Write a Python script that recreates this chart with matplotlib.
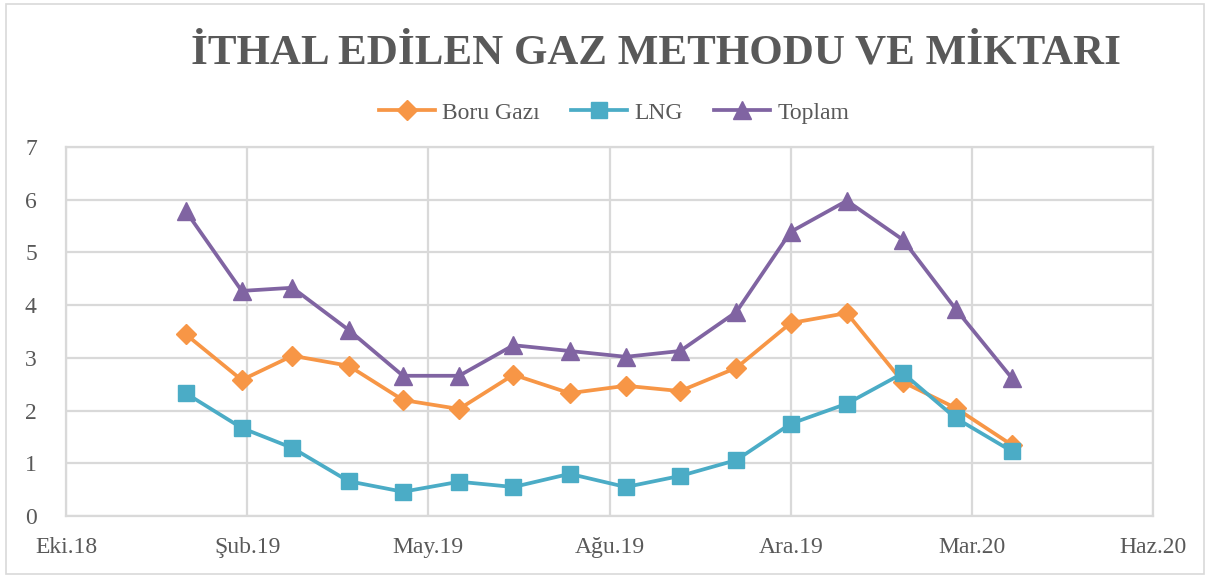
import matplotlib
matplotlib.use("Agg")
import matplotlib.pyplot as plt
import matplotlib.dates as mdates
from matplotlib.patches import Rectangle
import datetime as dt

months = [dt.date(2019, m, 1) for m in range(1, 13)] + [dt.date(2020, m, 1) for m in range(1, 5)]
boru = [3.45, 2.58, 3.04, 2.85, 2.20, 2.03, 2.68, 2.33, 2.47, 2.37, 2.81, 3.66, 3.85, 2.54, 2.05, 1.35]
lng = [2.33, 1.67, 1.29, 0.66, 0.46, 0.65, 0.55, 0.80, 0.55, 0.76, 1.06, 1.75, 2.13, 2.71, 1.86, 1.23]
toplam = [5.79, 4.27, 4.33, 3.53, 2.66, 2.66, 3.24, 3.13, 3.02, 3.13, 3.87, 5.39, 5.98, 5.24, 3.93, 2.62]
x_start = dt.date(2018, 10, 27)
tick_labels = ["Eki.18", "Şub.19", "May.19", "Ağu.19", "Ara.19", "Mar.20", "Haz.20"]
title = "İTHAL EDİLEN GAZ METHODU VE MİKTARI"

fig = plt.figure(figsize=(12.08, 5.78), dpi=100)
ax = fig.add_axes([66/1208, 1-516/578, (1153-66)/1208, (516-147)/578])

series = [
    ("Boru Gazı", boru, "#F79646", "D", 10.5),
    ("LNG", lng, "#4BACC6", "s", 12),
    ("Toplam", toplam, "#8064A2", "^", 13),
]
for name, vals, col, mk, ms in series:
    ax.plot(months, vals, color=col, lw=2.7, marker=mk, markersize=ms,
            markerfacecolor=col, markeredgecolor=col, label=name, zorder=3)

ticks = [x_start + dt.timedelta(days=100*i) for i in range(7)]
ax.set_xlim(ticks[0], ticks[-1])
ax.set_xticks(ticks)
ax.set_xticklabels(tick_labels)
ax.set_ylim(0, 7)
ax.set_yticks(range(8))

serif = ["Liberation Serif", "DejaVu Serif"]
for lab in ax.get_xticklabels() + ax.get_yticklabels():
    lab.set_family(serif)
    lab.set_fontsize(17)
    lab.set_color("#595959")
ax.tick_params(axis="both", length=0)
ax.tick_params(axis="x", pad=15)
ax.tick_params(axis="y", pad=21)
ax.grid(True, color="#D9D9D9", lw=1.6)
ax.set_axisbelow(True)
for s in ax.spines.values():
    s.set_color("#D9D9D9")
    s.set_linewidth(1.6)

fig.text(656/1208, 1-54/578, title, ha="center", va="center",
         fontsize=31, fontweight="bold", color="#595959", family=serif)

leg = fig.legend(loc="center", bbox_to_anchor=(614/1208, 1-113/578), ncol=3,
                 frameon=False, prop={"family": serif, "size": 17},
                 handlelength=2.4, columnspacing=1.3, handletextpad=0.3)
for t in leg.get_texts():
    t.set_color("#595959")

fig.add_artist(Rectangle((6/1208, 4/578), 1198/1208, 570/578, transform=fig.transFigure,
                         fill=False, edgecolor="#D9D9D9", lw=1.2))

fig.savefig("out.png", dpi=100)
